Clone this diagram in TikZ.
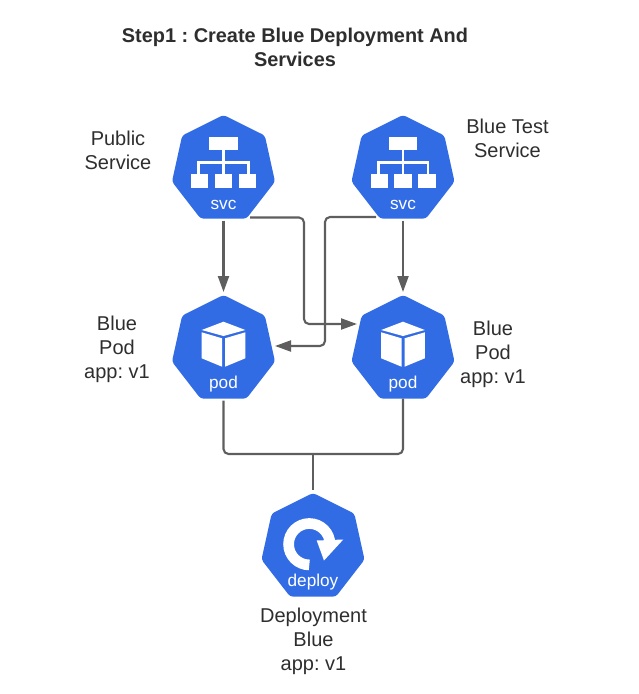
\documentclass[tikz,border=0pt]{standalone}
\usepackage{fontspec}
\setmainfont{Liberation Sans}
\frenchspacing
\usetikzlibrary{shapes.geometric,arrows.meta}
\definecolor{kblue}{HTML}{326CE5}
\definecolor{kline}{HTML}{5E5E5E}
\definecolor{ktext}{HTML}{2E2E2E}
\tikzset{
  x=1pt,y=-1pt,
  hepta/.style={regular polygon,regular polygon sides=7,minimum size=109pt,xscale=0.97,inner sep=0pt,outer sep=0pt,fill=kblue,rounded corners=3pt},
  lbl/.style={text=ktext,font=\fontsize{20}{24}\selectfont,align=center,inner sep=0pt},
  ttl/.style={text=ktext,font=\fontsize{19.9}{24}\selectfont\bfseries,align=center,inner sep=0pt},
  kind/.style={text=white,font=\fontsize{17.2}{20}\selectfont,inner sep=0pt},
  conn/.style={draw=kline,line width=2.1pt,rounded corners=5pt},
  arr/.style={conn,-{Triangle[length=16pt,width=11pt]}},
  svcicon/.pic={
    \fill[white] (-14.2,-32.2) rectangle (14.2,-19.5);
    \fill[white] (-32.5,4.8) rectangle (-15.2,18.2);
    \fill[white] (-8.8,4.8) rectangle (8.8,18.2);
    \fill[white] (15.2,4.8) rectangle (32.5,18.2);
    \draw[white,line width=2.6pt] (0,-20) -- (0,5) (-24.8,5) -- (-24.8,-7.2) -- (24.8,-7.2) -- (24.8,5);
  },
  podicon/.pic={
    \fill[white] (0,-27.8) -- (21.8,-19.5) -- (0,-13.5) -- (-21.8,-19.5) -- cycle;
    \fill[white] (-21.8,-17.2) -- (-1.5,-11.2) -- (-1.5,17.2) -- (-21.8,8.8) -- cycle;
    \fill[white] (21.8,-17.2) -- (1.5,-11.2) -- (1.5,17.2) -- (21.8,8.8) -- cycle;
  },
  deployicon/.pic={
    \draw[white,line width=10.7pt] (-3.7,17.4) arc[start angle=270,end angle=0,radius=20.7pt];
    \fill[white] (3.7,-7) -- (30.3,-8) -- (11,13) -- cycle;
  },
}
\begin{document}
\begin{tikzpicture}
\useasboundingbox (0,0) rectangle (638,694);
\node[hepta] (svc1) at (223.5,169.5) {};
\node[hepta] (svc2) at (403,169.5) {};
\node[hepta] (pod1) at (223.5,349.5) {};
\node[hepta] (pod2) at (403,349.5) {};
\node[hepta] (dep) at (313,547.5) {};
\pic at (svc1.center) {svcicon};
\pic at (svc2.center) {svcicon};
\pic at (pod1.center) {podicon};
\pic at (pod2.center) {podicon};
\pic at (dep.center) {deployicon};
\node[kind] (svc1t) at (223.5,204.5) {svc};
\node[kind] (svc2t) at (403,204.5) {svc};
\node[kind] (pod1t) at (223.5,384.5) {pod};
\node[kind] (pod2t) at (403,384.5) {pod};
\node[kind] (dept) at (313,582) {deploy};
\node[ttl] (title) at (295,47) {Step1 : Create Blue Deployment And\\Services};
\node[lbl] (l1) at (118,150.5) {Public\\Service};
\node[lbl] (l2) at (507.5,138.5) {Blue Test\\Service};
\node[lbl] (l3) at (117,349.5) {Blue\\Pod\\app: v1};
\node[lbl] (l4) at (493,354) {Blue\\Pod\\app: v1};
\node[lbl] (l5) at (313.5,641) {Deployment\\Blue\\app: v1};
\coordinate (s1a) at (250,217.5);
\coordinate (e1) at (304,324);
\coordinate (p2in) at (357,324);
\coordinate (s2a) at (376,217);
\coordinate (e2) at (325,346);
\coordinate (p1in) at (275,346);
\coordinate (m) at (313,454);
\draw[arr,shorten <=2pt,shorten >=3pt] (svc1.south) -- (pod1.north);
\draw[arr,shorten <=2pt,shorten >=3pt] (svc2.south) -- (pod2.north);
\draw[arr] (s1a) -| (e1) -- (p2in);
\draw[arr] (s2a) -| (e2) -- (p1in);
\draw[conn,shorten <=2pt] (pod1.south) |- (m) -| (pod2.south);
\draw[conn,shorten >=3pt] (m) -- (dep.north);
\end{tikzpicture}
\end{document}
